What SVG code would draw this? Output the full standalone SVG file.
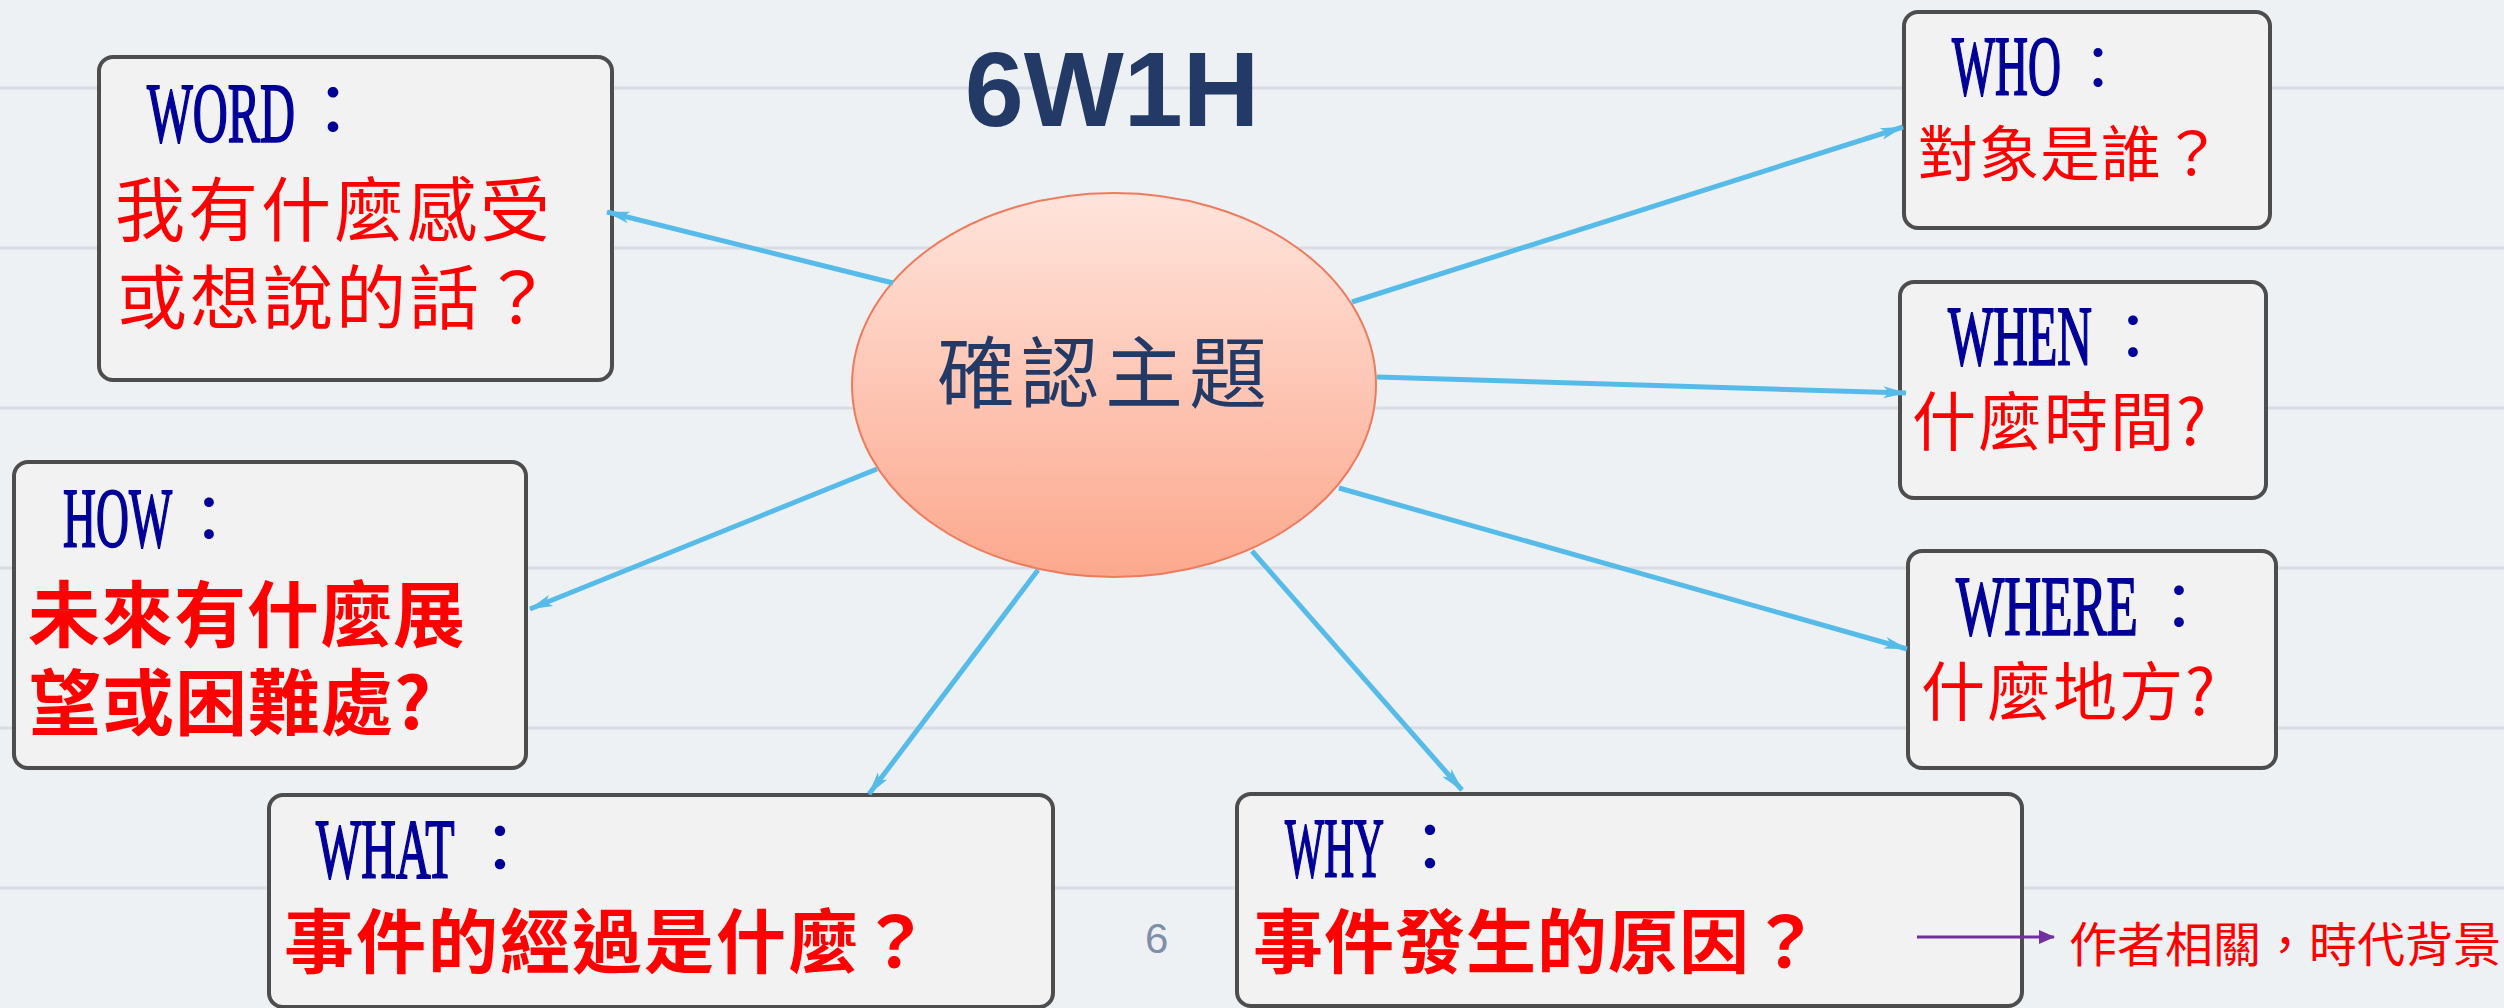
<svg xmlns="http://www.w3.org/2000/svg" width="2504" height="1008" viewBox="0 0 2504 1008">
<defs>
<linearGradient id="eg" x1="0" y1="0" x2="0" y2="1">
<stop offset="0" stop-color="#ffe4dc"/>
<stop offset="1" stop-color="#fca88d"/>
</linearGradient>
<marker id="ah" viewBox="0 0 20 10" refX="19" refY="5" markerWidth="24" markerHeight="12" markerUnits="userSpaceOnUse" orient="auto">
<path d="M0,0 L20,5 L0,10 L5,5 Z" fill="#56bbe8"/>
</marker>
<marker id="ap" viewBox="0 0 16 14" refX="15" refY="7" markerWidth="16" markerHeight="14" markerUnits="userSpaceOnUse" orient="auto">
<path d="M0,0 L16,7 L0,14 Z" fill="#7030a0"/>
</marker>
</defs>
<style>
.box{fill:#f2f2f2;stroke:#4d4d4d;stroke-width:4}
.lat{font-family:"Liberation Serif",serif;font-size:85px;fill:#000099;stroke:#000099;stroke-width:2}
.col{font-family:"Noto Sans CJK TC",sans-serif;fill:#000099}
.cjk{font-family:"Noto Sans CJK TC","Noto Sans CJK JP",sans-serif;fill:#ff0000}
.b{font-weight:bold}
.conn{stroke:#56bbe8;stroke-width:5;fill:none;marker-end:url(#ah)}
.rule{stroke:#d8dce3;stroke-width:3}
</style>
<rect width="2504" height="1008" fill="#eef1f4"/>
<g id="rules">
<line class="rule" x1="0" y1="88" x2="2504" y2="88"/>
<line class="rule" x1="0" y1="248" x2="2504" y2="248"/>
<line class="rule" x1="0" y1="408" x2="2504" y2="408"/>
<line class="rule" x1="0" y1="568" x2="2504" y2="568"/>
<line class="rule" x1="0" y1="728" x2="2504" y2="728"/>
<line class="rule" x1="0" y1="888" x2="2504" y2="888"/>
</g>
<text id="title" x="1112" y="126" text-anchor="middle" font-family="Liberation Sans,Arial,sans-serif" font-weight="bold" font-size="106" fill="#243a66">6W1H</text>
<g id="center">
<ellipse cx="1114" cy="385" rx="262" ry="192" fill="url(#eg)" stroke="#ee7c5c" stroke-width="2"/>
<text x="937" y="402" font-family="Noto Sans CJK TC,sans-serif" font-size="78" letter-spacing="6" fill="#243a66">確認主題</text>
</g>
<g id="word">
<rect class="box" x="99" y="57" width="513" height="323" rx="14"/>
<text class="lat" transform="translate(147,142) scale(0.57,1)">WORD</text>
<text class="col" x="298" y="136" font-size="70">：</text>
<text class="cjk" x="115" y="236" font-size="70" letter-spacing="3">我有什麼感受</text>
<text class="cjk" x="117" y="324" font-size="70" letter-spacing="3">或想說的話？</text>
</g>
<g id="who">
<rect class="box" x="1904" y="12" width="366" height="216" rx="14"/>
<text class="lat" transform="translate(1952,95) scale(0.537,1)">WHO</text>
<text class="col" x="2068" y="90" font-size="60">：</text>
<text class="cjk" x="1918" y="176" font-size="60" letter-spacing="1">對象是誰？</text>
</g>
<g id="when">
<rect class="box" x="1900" y="282" width="366" height="216" rx="14"/>
<text class="lat" transform="translate(1948,365) scale(0.565,1)">WHEN</text>
<text class="col" x="2101" y="360" font-size="64">：</text>
<text class="cjk" x="1912" y="445" font-size="64" letter-spacing="2">什麼時間?</text>
</g>
<g id="where">
<rect class="box" x="1908" y="551" width="368" height="217" rx="14"/>
<text class="lat" transform="translate(1956,635) scale(0.602,1)">WHERE</text>
<text class="col" x="2147" y="630" font-size="64">：</text>
<text class="cjk" x="1921" y="715" font-size="64" letter-spacing="2">什麼地方?</text>
</g>
<g id="how">
<rect class="box" x="14" y="462" width="512" height="306" rx="14"/>
<text class="lat" transform="translate(63,547) scale(0.537,1)">HOW</text>
<text class="col" x="177" y="542" font-size="64">：</text>
<text class="cjk b" x="28" y="641" font-size="72" letter-spacing="1">未來有什麼展</text>
<text class="cjk b" x="29" y="729" font-size="72" letter-spacing="1">望或困難處?</text>
</g>
<g id="what">
<rect class="box" x="269" y="795" width="784" height="212" rx="14"/>
<text class="lat" transform="translate(316,878) scale(0.565,1)">WHAT</text>
<text class="col" x="466" y="873" font-size="68">：</text>
<text class="cjk b" x="284" y="968" font-size="70" letter-spacing="2">事件的經過是什麼？</text>
</g>
<g id="why">
<rect class="box" x="1237" y="794" width="785" height="212" rx="14"/>
<text class="lat" transform="translate(1285,877) scale(0.488,1)">WHY</text>
<text class="col" x="1396" y="872" font-size="68">：</text>
<text class="cjk b" x="1253" y="968" font-size="70" letter-spacing="1">事件發生的原因？</text>
</g>
<text id="page" x="1145" y="953" font-family="Liberation Sans,Arial,sans-serif" font-size="42" fill="#7f8fa9">6</text>
<text id="note" class="cjk" x="2069" y="962" font-size="48">作者相關，時代背景</text>
<g id="connectors">
<line class="conn" x1="893" y1="283" x2="607" y2="212"/>
<line class="conn" x1="1352" y1="302" x2="1903" y2="127"/>
<line class="conn" x1="1377" y1="377" x2="1906" y2="393"/>
<line class="conn" x1="1339" y1="488" x2="1907" y2="649"/>
<line class="conn" x1="1252" y1="551" x2="1462" y2="790"/>
<line class="conn" x1="1038" y1="570" x2="869" y2="794"/>
<line class="conn" x1="877" y1="469" x2="530" y2="609"/>
<line x1="1917" y1="937" x2="2054" y2="937" stroke="#7030a0" stroke-width="3" marker-end="url(#ap)"/>
</g>
</svg>
